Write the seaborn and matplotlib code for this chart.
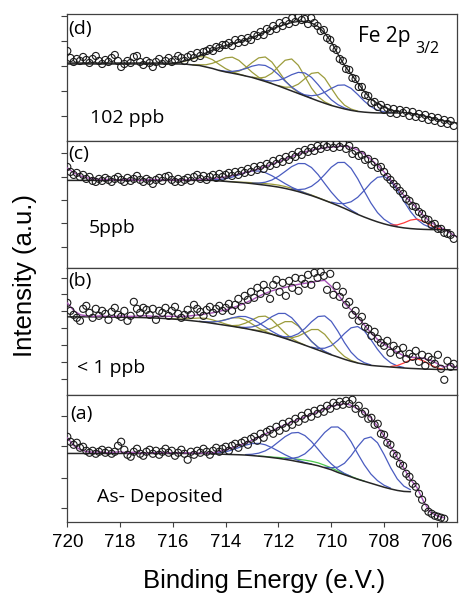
import numpy as np
import matplotlib
matplotlib.use("Agg")
import matplotlib.pyplot as plt
import seaborn as sns

nan = np.nan

# energy grids (eV): fit curves every 0.25 eV, measured points every 0.12 eV
grid = 720 - 0.25 * np.arange(60)

# ---- (d) 102 ppb ----
d_bg = [77] * 17 + [77, 76.8, 76, 75.5, 74, 72.5, 70.5, 69, 67.8, 66.5, 65, 63.5, 61.5, 59.5,
                    57.3, 55, 52.5, 50, 47.5, 45, 42.5, 40, 37.7, 35.5, 33.7, 32, 30.6, 29.5,
                    28.8, 28.3, 28, 28, 28, 28] + [nan] * 9
d_fit = [78] * 17 + [78.5, 80.5, 82.5, 85, 88, 91, 93.5, 95.5, 97, 99, 101, 103.5, 106, 109,
                     112, 114.5, 116.5, 118.5, 119.5, 119.5, 118, 114.5, 108, 99, 87, 75.5, 67,
                     58, 49.5, 42, 37.5, 34, 31, 29.5, 28.5, 27.5, 26.5, 25, 23.5, 21.5, 20, 19, 18]
d_olive_start = [716.25, 715.25, 714.0, 713.0, 712.0]
d_olive = [
    [0.1, 0.4, 1.4, 3.3, 6.1, 8.8, 10, 8.8, 6.1, 3.3, 1.4, 0.4, 0.1],
    [0.2, 0.7, 2.2, 5.2, 9.7, 14.1, 16, 14.1, 9.7, 5.2, 2.2, 0.7, 0.2],
    [0.3, 1.1, 3.3, 8, 14.9, 21.6, 24.5, 21.6, 14.9, 8, 3.3, 1.1, 0.3],
    [0.4, 1.4, 4.3, 10.4, 19.4, 28.2, 32, 28.2, 19.4, 10.4, 4.3, 1.4, 0.4],
    [0.3, 1.3, 3.8, 9.3, 17.3, 25.1, 28.5, 25.1, 17.3, 9.3, 3.8, 1.3, 0.3],
]
d_blue_start = [714.25, 712.75, 711.25]
d_blue = [
    [0.2, 0.7, 1.8, 4, 7.3, 11.3, 14.7, 16, 14.7, 11.3, 7.3, 4, 1.8, 0.7, 0.2],
    [0.3, 1, 2.6, 5.7, 10.5, 16.3, 21.1, 23, 21.1, 16.3, 10.5, 5.7, 2.6, 1, 0.3],
    [0.3, 1.1, 2.7, 6, 11, 17, 22, 24, 22, 17, 11, 6, 2.7, 1.1, 0.3],
]
d_pts = [90, 83, 79, 82, 80, 84, 81, 78, 82, 85,
         80, 77, 81, 79, 83, 86, 80, 74, 77, 80,
         78, 84, 85, 79, 76, 80, 78, 74, 79, 82,
         77, 80, 83, 79, 81, 85, 83, 80, 84, 86,
         83, 88, 85, 89, 90, 92, 90, 94, 93, 96,
         96, 98, 95, 101, 98, 102, 99, 103, 101, 106,
         105, 109, 106, 112, 110, 115, 112, 118, 115, 120,
         117, 123, 119, 124, 121, 122, 117, 123, 118, 115,
         110, 111, 103, 101, 93, 91, 82, 80, 72, 71,
         63, 62, 54, 54, 46, 45, 38, 39, 34, 36,
         31, 33, 28, 32, 27, 31, 28, 30, 25, 29,
         24, 27, 23, 26, 21, 24, 20, 23, 18, 21,
         17, 20, 15]

# ---- (c) 5 ppb ----
c_bg = [87.5] * 23 + [87, 86.5, 86, 85.5, 85, 84.3, 83.5, 82.7, 81.8, 80.8, 79.5, 78, 76.3, 74.3,
                      72.3, 70, 67.5, 65, 62.3, 59.5, 56.5, 53.5, 50.8, 48.3, 46, 44, 42.3, 41,
                      40, 39.3, 38.8, 38.5, 38.3, 38.2, 38.1, 38] + [nan]
c_fit = [100, 95, 92, 90, 89, 88.5, 88.5, 88, 88, 88.5, 88, 87.5, 88, 88.5, 88, 88, 88, 88, 88,
         88.3, 88.5, 88.8, 89.2, 90, 91, 92.3, 93.8, 95.4, 97, 99.2, 101.3, 103.8, 106.2, 108.8,
         111.3, 113.8, 116, 117.8, 119, 120, 120.8, 121.5, 121.7, 120.5, 118, 114, 108.7, 102.5,
         96, 88, 80, 72.5, 66.3, 59.5, 52, 46, 42, 39, 35, 31]
c_olive_start = [714.0]
c_olive = [[0.1, 0.2, 0.3, 0.6, 0.9, 1.3, 1.6, 1.9, 2, 1.9, 1.6, 1.3, 0.9, 0.6, 0.3, 0.2, 0.1]]
c_blue_start = [714.75, 713.0, 711.5, 710.0]
c_blue = [
    [0.2, 0.6, 1.4, 2.7, 4.8, 7.5, 10.4, 12.6, 13.4, 12.6, 10.4, 7.5, 4.8, 2.7, 1.4, 0.6, 0.2],
    [0.5, 1.3, 3, 6.1, 10.8, 16.9, 23.3, 28.1, 30, 28.1, 23.3, 16.9, 10.8, 6.1, 3, 1.3, 0.5],
    [0.8, 2, 4.6, 9.3, 16.6, 25.9, 35.7, 43.1, 46, 43.1, 35.7, 25.9, 16.6, 9.3, 4.6, 2, 0.8],
    [0.8, 2.1, 4.8, 9.6, 17.1, 26.7, 36.8, 44.6, 47.5, 44.6, 36.8, 26.7, 17.1, 9.6, 4.8, 2.1, 0.8],
]
c_red_start = [707.75]
c_red = [[0.5, 2, 5, 8.5, 10, 8, 4.5, 1.5, 0.3]]
c_pts = [101, 96, 93, 95, 91, 93, 89, 91, 87, 86,
         89, 87, 90, 88, 86, 89, 91, 88, 86, 90,
         87, 89, 92, 88, 86, 89, 87, 84, 88, 90,
         87, 91, 92, 88, 86, 89, 86, 88, 90, 87,
         91, 93, 89, 92, 88, 91, 93, 90, 94, 91,
         93, 95, 92, 96, 93, 97, 95, 99, 96, 101,
         98, 102, 99, 104, 102, 107, 104, 109, 106, 111,
         108, 113, 111, 116, 113, 118, 116, 120, 117, 122,
         119, 123, 121, 124, 120, 124, 121, 125, 119, 122,
         114, 117, 112, 113, 108, 109, 103, 106, 100, 101,
         96, 91, 88, 84, 81, 77, 74, 69, 67, 62,
         61, 56, 54, 49, 48, 43, 44, 39, 39, 35,
         34, 33, 29]

# ---- (b) < 1 ppb ----
b_bg = [78, 78, 78, 78, 78, 77.9, 77.8, 77.7, 77.6, 77.5, 77.4, 77.3, 77.1, 76.9, 76.6, 76.2,
        75.8, 75.3, 74.7, 74, 73.3, 72.5, 71.5, 70.5, 69.5, 68.5, 67.4, 66.3, 65, 63.6, 62.2,
        60.5, 58.5, 56.4, 54.2, 52, 49.6, 47.2, 44.8, 42.4, 40, 37.8, 35.5, 33.5, 31.8, 30.5,
        29.4, 28.8, 28.3, 27.8, 27.3, 26.8, 26.4, 26.1, 25.8, 25.6, 25.4, 25.3, 25.2, 25.1]
b_fit = [92, 84, 80, 79, 78.5, 79, 78.5, 78.5, 79, 78.5, 78.5, 79, 79, 78.5, 78.5, 78.5, 78.5,
         78.5, 78.5, 79.3, 80, 81, 82, 83.5, 85, 87, 89.3, 92, 95, 98.5, 101.5, 104, 106, 107.5,
         109, 110.5, 111.5, 112.5, 113.8, 114.5, 108.5, 100.5, 91.5, 85, 77.5, 70, 62, 55.5,
         50.5, 46.5, 42.5, 39, 37.5, 37.3, 36.5, 34.5, 31.5, 27.5, 30, 27]
b_olive_start = [716.25, 715.0, 714.0, 713.0, 712.0]
b_olive = [
    [0, 0.2, 0.5, 1.3, 2.4, 3.5, 4, 3.5, 2.4, 1.3, 0.5, 0.2, 0],
    [0.1, 0.4, 1.3, 3.1, 5.8, 8.5, 9.6, 8.5, 5.8, 3.1, 1.3, 0.4, 0.1],
    [0.2, 0.7, 2.2, 5.4, 10, 14.6, 16.5, 14.6, 10, 5.4, 2.2, 0.7, 0.2],
    [0.2, 0.8, 2.6, 6.2, 11.5, 16.8, 19, 16.8, 11.5, 6.2, 2.6, 0.8, 0.2],
    [0.2, 0.9, 2.8, 6.7, 12.4, 18.1, 20.5, 18.1, 12.4, 6.7, 2.8, 0.9, 0.2],
]
b_blue_start = [715.0, 713.5, 712.0, 710.75]
b_blue = [
    [0.2, 0.5, 1.4, 3, 5.5, 8.5, 11, 12, 11, 8.5, 5.5, 3, 1.4, 0.5, 0.2],
    [0.4, 1.1, 2.9, 6.2, 11.5, 17.7, 22.9, 25, 22.9, 17.7, 11.5, 6.2, 2.9, 1.1, 0.4],
    [0.5, 1.6, 4.2, 9.1, 16.7, 25.8, 33.5, 36.5, 33.5, 25.8, 16.7, 9.1, 4.2, 1.6, 0.5],
    [0.5, 1.6, 4.2, 9.1, 16.7, 25.8, 33.5, 36.5, 33.5, 25.8, 16.7, 9.1, 4.2, 1.6, 0.5],
]
b_red_start = [707.75]
b_red = [[0.5, 2, 5, 8.5, 10, 8, 4.5, 1.5, 0.3]]
b_pts = [92, 84, 80, 77, 74, 86, 89, 82, 77, 86,
         79, 84, 81, 75, 83, 87, 80, 78, 84, 74,
         79, 93, 86, 82, 87, 85, 80, 86, 75, 84,
         82, 87, 79, 84, 88, 81, 77, 80, 85, 80,
         90, 86, 83, 79, 85, 88, 82, 86, 89, 84,
         87, 91, 84, 90, 96, 88, 99, 95, 103, 97,
         107, 101, 110, 104, 96, 110, 115, 103, 112, 99,
         114, 107, 117, 104, 116, 111, 120, 110, 122, 117,
         123, 119, 105, 121, 100, 109, 98, 103, 90, 93,
         80, 84, 74, 78, 68, 66, 59, 63, 56, 52,
         49, 54, 42, 49, 45, 40, 47, 36, 41, 38,
         44, 33, 40, 29, 38, 35, 31, 40, 26, 15,
         34, 28, 31]

# ---- (a) as-deposited ----
a_bg = [68.3] * 21 + [68.2, 68, 67.7, 67.4, 67.2, 67, 66.7, 66.2, 65.6, 65, 64.2, 63.4, 62.4,
                      61.3, 60, 58.7, 57.5, 56, 54, 52, 49.3, 47, 44.8, 42.5, 40.5, 38.5, 36.5,
                      34.5, 32.8, 31.3, 30.3, 30] + [nan] * 7
a_fit = [84, 76, 72, 70, 69.5, 70, 69, 69.5, 70, 69, 69.5, 69, 68.5, 69, 69.5, 69, 69, 69, 69,
         68.8, 68.7, 68.8, 69, 70.3, 72, 74, 76.3, 78.8, 81.5, 84.5, 87.7, 91, 94.3, 97, 99.7,
         102.3, 105, 107.5, 110.2, 112.8, 115.3, 117, 118.2, 116.5, 113, 109, 104, 95.5, 85.5,
         75, 64.5, 53.5, 42.5, 34, 20, 9.5, 6, 4, nan, nan]
a_green_start = [712.75]
a_green = [[0.1, 0.3, 0.5, 0.9, 1.4, 1.9, 2.5, 2.9, 3, 2.9, 2.5, 1.9, 1.4, 0.9, 0.5, 0.3, 0.1]]
a_blue_start = [714.75, 713.25, 711.75, 710.25]
a_blue = [
    [0.2, 0.6, 1.3, 2.6, 4.6, 7.2, 9.9, 12, 12.8, 12, 9.9, 7.2, 4.6, 2.6, 1.3, 0.6, 0.2],
    [0.5, 1.3, 3, 5.9, 10.5, 16.5, 22.7, 27.5, 29.3, 27.5, 22.7, 16.5, 10.5, 5.9, 3, 1.3, 0.5],
    [0.8, 2, 4.6, 9.2, 16.4, 25.6, 35.3, 42.7, 45.5, 42.7, 35.3, 25.6, 16.4, 9.2, 4.6, 2, 0.8],
    [0.6, 2, 5.3, 11.5, 21.2, 32.7, 42.5, 46.3, 42.5, 32.7, 21.2, 11.5, 5.3, 2],
]
a_pts = [85, 80, 77, 79, 74, 75, 71, 69, 71, 68,
         70, 72, 69, 71, 68, 70, 76, 80, 72, 67,
         65, 70, 73, 68, 66, 70, 72, 68, 71, 67,
         70, 73, 69, 71, 66, 69, 72, 68, 62, 70,
         67, 71, 69, 73, 70, 67, 71, 74, 70, 73,
         75, 71, 76, 78, 74, 79, 81, 77, 83, 85,
         81, 88, 84, 90, 92, 88, 95, 91, 98, 94,
         100, 97, 103, 100, 106, 103, 109, 105, 111, 108,
         113, 110, 116, 113, 119, 116, 120, 117, 121, 118,
         122, 113, 116, 108, 110, 103, 104, 97, 98, 88,
         87, 79, 77, 68, 66, 58, 56, 48, 45, 38,
         35, 28, 22, 14, 10, 8, 6, 5, 4, 3]

BLUE = "#4a5cc0"
OLIVE = "#9c9c3c"
RED = "#ff3b3b"
GREEN = "#4cc84c"
PURPLE = "#a552b5"
DARK = "#262626"
INK = "#000000"

sns.set_theme(style="white")
plt.rcParams['font.family'] = ['Liberation Sans', 'DejaVu Sans']


def line(ax, x, y, color, lw, z):
    x = np.asarray(x, dtype=float)
    y = np.asarray(y, dtype=float)
    ok = ~np.isnan(y)
    sns.lineplot(x=x[ok], y=y[ok], ax=ax, color=color, linewidth=lw, zorder=z, sort=False)


def draw_panel(ax, bg, fit, pts, comps, fit_color, yticks):
    bg_arr = np.asarray(bg, dtype=float)
    for starts, curves, color in comps:
        for s, v in zip(starts, curves):
            i0 = int(round((720 - s) / 0.25))
            e = grid[i0:i0 + len(v)]
            line(ax, e, bg_arr[i0:i0 + len(v)] + np.asarray(v), color, 0.9, 2)
    line(ax, grid, bg, DARK, 1.1, 3)
    line(ax, grid, fit, fit_color, 1.0, 4)
    e_pts = 720 - 0.12 * np.arange(len(pts))
    sns.scatterplot(x=e_pts, y=pts, ax=ax, marker="o", s=26, facecolors="none",
                    edgecolor="#1a1a1a", linewidth=0.8, zorder=5, clip_on=True)
    ax.set_xlim(720, 705.25)
    ax.set_ylim(0, 127)
    ax.set_yticks(yticks)
    ax.set_xlabel("")
    ax.set_ylabel("")
    ax.tick_params(axis="y", left=True, direction="out", length=4, width=0.8,
                   color="#404040", labelleft=False)
    ax.tick_params(axis="x", bottom=False, labelbottom=False)
    for sp in ax.spines.values():
        sp.set_visible(True)
        sp.set_color("#404040")
        sp.set_linewidth(0.9)


fig = plt.figure(figsize=(4.6, 5.93), dpi=100)
left, width, bottom, ph = 0.1463, 0.8465, 0.1202, 0.21405
ax_d = fig.add_axes([left, bottom + 3 * ph, width, ph])
ax_c = fig.add_axes([left, bottom + 2 * ph, width, ph])
ax_b = fig.add_axes([left, bottom + ph, width, ph])
ax_a = fig.add_axes([left, bottom, width, ph])

draw_panel(ax_d, d_bg, d_fit, d_pts,
           [(d_olive_start, d_olive, OLIVE), (d_blue_start, d_blue, BLUE)],
           DARK, [25, 50, 75, 100, 125])
draw_panel(ax_c, c_bg, c_fit, c_pts,
           [(c_olive_start, c_olive, OLIVE), (c_blue_start, c_blue, BLUE), (c_red_start, c_red, RED)],
           PURPLE, [21.3, 44.7, 68, 91.3, 114.7])
draw_panel(ax_b, b_bg, b_fit, b_pts,
           [(b_olive_start, b_olive, OLIVE), (b_blue_start, b_blue, BLUE), (b_red_start, b_red, RED)],
           PURPLE, [15.7, 33, 49.7, 67.3, 84, 100.7, 117.3])
draw_panel(ax_a, a_bg, a_fit, a_pts,
           [(a_green_start, a_green, GREEN), (a_blue_start, a_blue, BLUE)],
           PURPLE, [13.7, 43.7, 75.3, 105.3])

# bottom axis ticks
ax_a.set_xticks(np.arange(720, 705, -2))
ax_a.tick_params(axis="x", bottom=True, labelbottom=True, direction="out", length=3.5,
                 width=0.8, color="#404040", labelsize=13.5, labelcolor=INK, pad=5)

# panel labels
lab = dict(fontsize=14, family=["Open Sans", "DejaVu Sans"], color=INK)
ax_d.text(0.003, 0.881, "(d)", transform=ax_d.transAxes, va="center", **lab)
ax_d.text(0.058, 0.145, "102 ppb", transform=ax_d.transAxes, va="baseline", **lab)
ax_d.text(0.7465, 0.78, "Fe 2p", transform=ax_d.transAxes, va="baseline", fontsize=15,
          family=["Open Sans", "DejaVu Sans"], color=INK)
ax_d.text(0.895, 0.69, "3/2", transform=ax_d.transAxes, va="baseline", fontsize=11.5,
          family=["Open Sans", "DejaVu Sans"], color=INK)
ax_c.text(0.003, 0.896, "(c)", transform=ax_c.transAxes, va="center", **lab)
ax_c.text(0.054, 0.271, "5ppb", transform=ax_c.transAxes, va="baseline", **lab)
ax_b.text(0.003, 0.897, "(b)", transform=ax_b.transAxes, va="center", **lab)
ax_b.text(0.024, 0.172, "< 1 ppb", transform=ax_b.transAxes, va="baseline", **lab)
ax_a.text(0.007, 0.852, "(a)", transform=ax_a.transAxes, va="center", **lab)
ax_a.text(0.0755, 0.159, "As- Deposited", transform=ax_a.transAxes, va="baseline", **lab)

fig.text(0.054, 0.5346, "Intensity (a.u.)", rotation=90, ha="center", va="center",
         fontsize=18.5, color=INK)
fig.text(0.574, 0.008, "Binding Energy (e.V.)", ha="center", va="baseline",
         fontsize=18.5, color=INK)

fig.savefig("out.png", dpi=100)
